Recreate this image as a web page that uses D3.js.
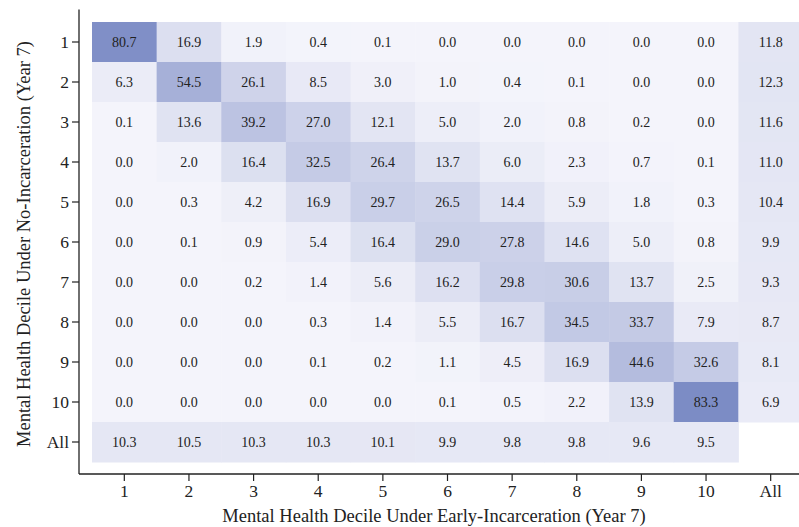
<!DOCTYPE html>
<html><head><meta charset="utf-8">
<script src="https://cdn.jsdelivr.net/npm/d3@7"></script>
<style>
html,body{margin:0;padding:0;background:#fff;}
svg text{font-family:"Liberation Serif","DejaVu Serif",serif;}
</style>
</head><body>
<svg id="c" width="799" height="527" font-family="Liberation Serif, serif"></svg>
<script>
const colLabels = ["1","2","3","4","5","6","7","8","9","10","All"];
const rowLabels = ["1","2","3","4","5","6","7","8","9","10","All"];
const row1  = [80.7,16.9,1.9,0.4,0.1,0.0,0.0,0.0,0.0,0.0,11.8];
const row2  = [6.3,54.5,26.1,8.5,3.0,1.0,0.4,0.1,0.0,0.0,12.3];
const row3  = [0.1,13.6,39.2,27.0,12.1,5.0,2.0,0.8,0.2,0.0,11.6];
const row4  = [0.0,2.0,16.4,32.5,26.4,13.7,6.0,2.3,0.7,0.1,11.0];
const row5  = [0.0,0.3,4.2,16.9,29.7,26.5,14.4,5.9,1.8,0.3,10.4];
const row6  = [0.0,0.1,0.9,5.4,16.4,29.0,27.8,14.6,5.0,0.8,9.9];
const row7  = [0.0,0.0,0.2,1.4,5.6,16.2,29.8,30.6,13.7,2.5,9.3];
const row8  = [0.0,0.0,0.0,0.3,1.4,5.5,16.7,34.5,33.7,7.9,8.7];
const row9  = [0.0,0.0,0.0,0.1,0.2,1.1,4.5,16.9,44.6,32.6,8.1];
const row10 = [0.0,0.0,0.0,0.0,0.0,0.1,0.5,2.2,13.9,83.3,6.9];
const rowAll = [10.3,10.5,10.3,10.3,10.1,9.9,9.8,9.8,9.6,9.5,null];
const rows = [row1,row2,row3,row4,row5,row6,row7,row8,row9,row10,rowAll];
const xTitle = "Mental Health Decile Under Early-Incarceration (Year 7)";
const yTitle = "Mental Health Decile Under No-Incarceration (Year 7)";
const FONT = '"Liberation Serif","DejaVu Serif",serif';

const svg = d3.select("#c");
const x = d3.scaleBand().domain(colLabels).range([92, 803]).padding(0);
const y = d3.scaleBand().domain(rowLabels).range([22, 462]).padding(0);
const color = d3.scaleLinear().domain([0, 85]).range(["#f4f4fb", "#7a8ac4"]).interpolate(d3.interpolateRgb);

const cells = [];
rows.forEach((r, i) => r.forEach((v, j) => { if (v !== null) cells.push({r: rowLabels[i], c: colLabels[j], v}); }));

svg.append("g").selectAll("rect").data(cells).join("rect")
  .attr("x", d => x(d.c)).attr("y", d => y(d.r))
  .attr("width", x.bandwidth()+0.5).attr("height", y.bandwidth()+0.5)
  .attr("fill", d => color(d.v));

svg.append("g").attr("font-family", FONT).selectAll("text").data(cells).join("text")
  .attr("x", d => x(d.c) + x.bandwidth()/2)
  .attr("y", d => y(d.r) + y.bandwidth()/2)
  .attr("text-anchor", "middle").attr("dominant-baseline", "central")
  .attr("font-family", FONT)
  .attr("font-size", 14).attr("fill", "#222")
  .text(d => d.v.toFixed(1));

// axes
const xAxis = svg.append("g").attr("transform", "translate(0,474)")
  .call(d3.axisBottom(x).tickSize(7).tickSizeOuter(0).tickPadding(4));
const yAxis = svg.append("g").attr("transform", "translate(79,0)")
  .call(d3.axisLeft(y).tickSize(7).tickSizeOuter(0).tickPadding(3));
[xAxis, yAxis].forEach(a => {
  a.attr("font-family", FONT);
  a.select(".domain").remove();
  a.selectAll(".tick line").attr("stroke", "#222").attr("stroke-width", 1.2);
  a.selectAll(".tick text").attr("font-size", 17.5).attr("fill", "#222")
    .attr("font-family", FONT);
});
// spines
svg.append("line").attr("x1", 79).attr("x2", 799).attr("y1", 474).attr("y2", 474).attr("stroke", "#222").attr("stroke-width", 1.3);
svg.append("line").attr("x1", 79).attr("x2", 79).attr("y1", 9.5).attr("y2", 474).attr("stroke", "#222").attr("stroke-width", 1.3);

svg.append("text").attr("x", 434).attr("y", 522).attr("text-anchor", "middle")
  .attr("font-family", FONT).attr("font-size", 18.5).attr("fill", "#222").text(xTitle);
svg.append("text").attr("transform", "translate(30,244) rotate(-90)").attr("text-anchor", "middle")
  .attr("font-family", FONT).attr("font-size", 18.5).attr("fill", "#222").text(yTitle);
</script>
</body></html>
